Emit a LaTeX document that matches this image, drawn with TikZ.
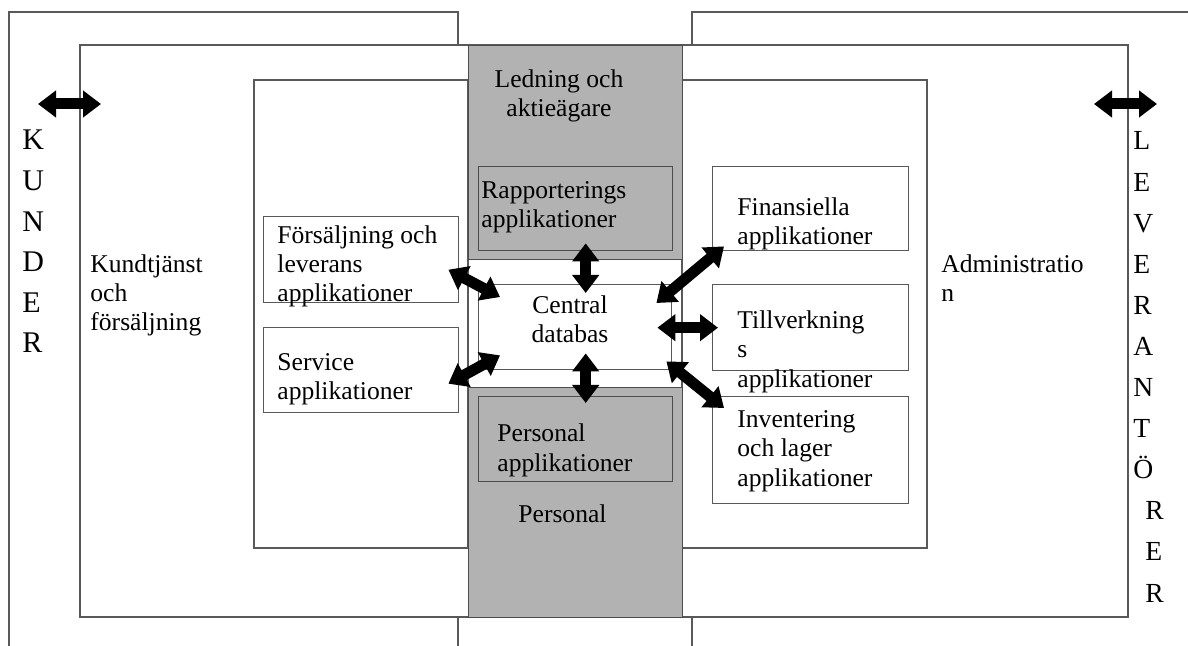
\documentclass[tikz,border=0pt]{standalone}
\usepackage{fontspec}
\setmainfont{Liberation Serif}
\usetikzlibrary{arrows.meta,calc}
\begin{document}
\begin{tikzpicture}[x=0.5pt,y=-0.5pt,
  frame/.style={draw=black!65, line width=0.7pt},
  wbox/.style={frame, fill=white, inner sep=0pt, anchor=north west},
  gbox/.style={draw=black!70, line width=0.7pt, fill=black!30, inner sep=0pt, anchor=north west},
  txt/.style={font=\fontsize{12.8}{14.7}\selectfont, inner sep=0pt, anchor=base west, align=left},
  dbl/.style={line width=5.5pt, {Triangle[length=9pt,width=13pt]}-{Triangle[length=9pt,width=13pt]}},
]
\useasboundingbox (0,0) rectangle (1188,646);
\clip (0,0) rectangle (1188,646);
% outer frames
\draw[frame] (9,12) rectangle (458,700);
\draw[frame] (692,12) rectangle (1250,700);
% middle frame
\draw[frame, fill=white] (80,45) rectangle (1128,617);
% inner frames
\draw[frame, fill=white] (254,80) rectangle (468,548);
\draw[frame, fill=white] (682,80) rectangle (927,548);
% gray regions
\node[gbox, minimum width=107pt, minimum height=107pt] (ledn) at (468,45) {};
\node[gbox, minimum width=107pt, minimum height=115pt] (persreg) at (468,387) {};
% boxes
\node[gbox, minimum width=97pt, minimum height=42pt] (rapp) at (478,166) {};
\node[gbox, minimum width=97pt, minimum height=42.5pt] (pers) at (478,396) {};
\node[wbox, minimum width=96.5pt, minimum height=42.5pt] (cdb) at (478,284) {};
\node[wbox, minimum width=97.5pt, minimum height=43pt] (fors) at (263,216) {};
\node[wbox, minimum width=97.5pt, minimum height=42.5pt] (serv) at (263,327) {};
\node[wbox, minimum width=98pt, minimum height=42pt] (fin) at (712,166) {};
\node[wbox, minimum width=98pt, minimum height=43pt] (till) at (712,284) {};
\node[wbox, minimum width=98pt, minimum height=53.5pt] (inv) at (712,396) {};
% texts (anchor base = baseline of last line)
\node[txt, anchor=base, align=center] (ledT) at (559,117) {Ledning och\\aktieägare};
\node[txt] (rappT) at (481,228) {Rapporterings\\applikationer};
\node[txt] (kundT) at (90,331) {Kundtjänst\\och\\försäljning};
\node[txt] (forsT) at (277,302) {Försäljning och\\leverans\\applikationer};
\node[txt] (servT) at (277,400) {Service\\applikationer};
\node[txt, anchor=base, align=center] (cdbT) at (570,343) {Central\\databas};
\node[txt] (persT) at (497,471) {Personal\\applikationer};
\node[txt] (persregT) at (518,522) {Personal};
\node[txt] (finT) at (737,245) {Finansiella\\applikationer};
\node[txt] (tillT) at (737,387) {Tillverkning\\s\\applikationer};
\node[txt] (invT) at (737,486) {Inventering\\och lager\\applikationer};
\node[txt] (admT) at (941,302) {Administratio\\n};
\node[font=\fontsize{15}{20.3}\selectfont, inner sep=0pt, anchor=base west, align=left] (kunder) at (22,353) {K\\U\\N\\D\\E\\R};
\node[font=\fontsize{13.8}{20.55}\selectfont, inner sep=0pt, anchor=base west, align=left] (lev) at (1133,602) {L\\E\\V\\E\\R\\A\\N\\T\\Ö\\\hspace*{6pt}R\\\hspace*{6pt}E\\\hspace*{6pt}R};
% arrows
\coordinate (kL) at (38,104);
\coordinate (kR) at (101,104);
\coordinate (lL) at (1094,104);
\coordinate (lR) at (1157,104);
\draw[dbl] (kL) -- (kR);
\draw[dbl] (lL) -- (lR);
\draw[dbl] ($(fors.east)+(-11,10)$) -- ($(cdb.north west)+(22,13)$);
\draw[dbl] ($(serv.east)+(-11,13.5)$) -- ($(cdb.south west)+(22,-15)$);
\draw[dbl] ($(rapp.south)+(10,-8)$) -- ($(cdb.north)+(10.5,9)$);
\draw[dbl] ($(cdb.south)+(10.5,-17)$) -- ($(pers.north)+(10,7)$);
\draw[dbl] ($(fin.south west)+(12,-5)$) -- ($(cdb.north east)+(-16,19)$);
\draw[dbl] ($(cdb.east)+(-15,0.5)$) -- ($(till.west)+(6,0)$);
\draw[dbl] ($(cdb.south east)+(-6,-9)$) -- ($(inv.north west)+(12,12)$);
\end{tikzpicture}
\end{document}
